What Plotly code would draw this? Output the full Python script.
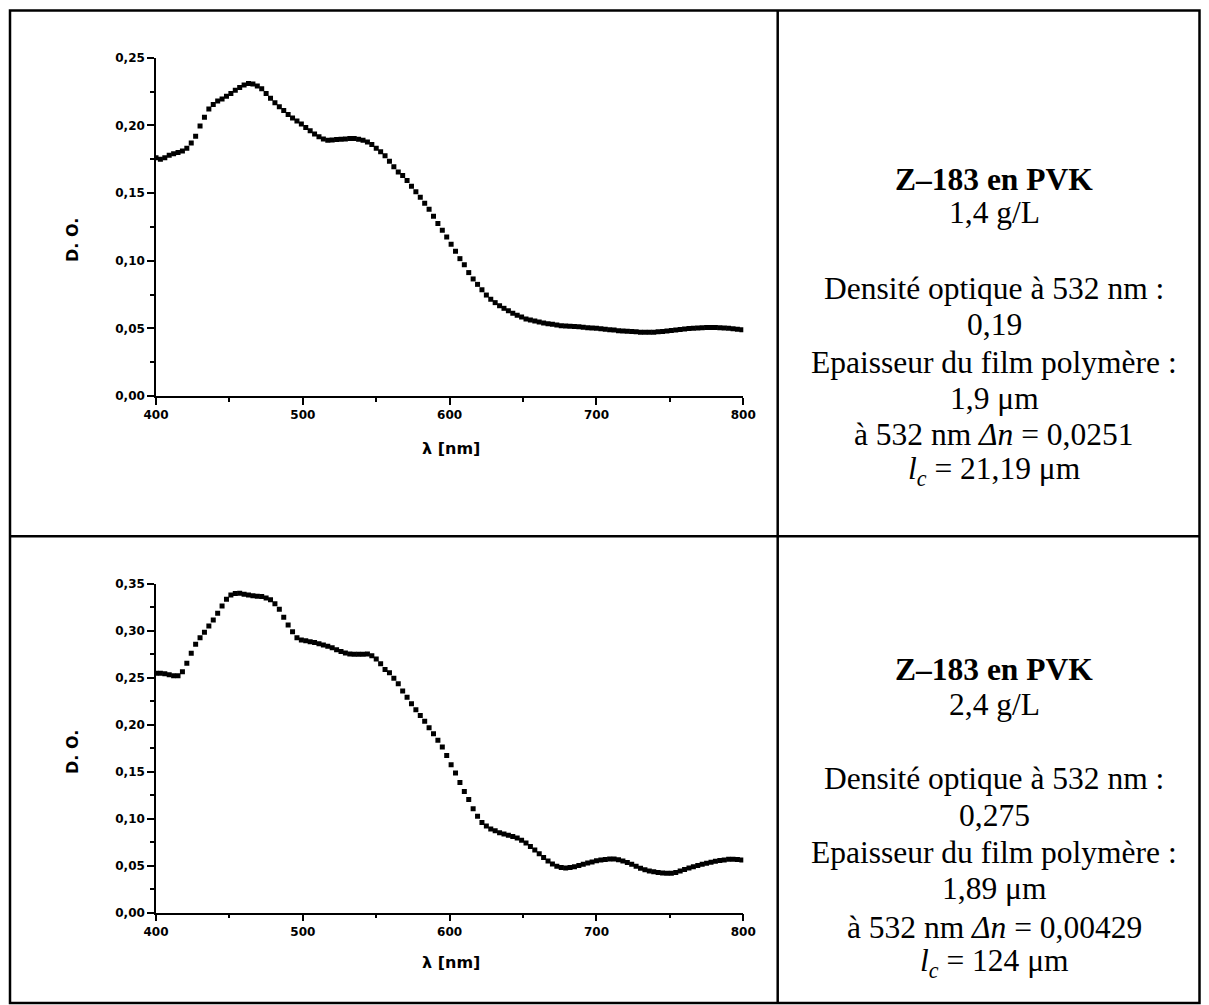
import plotly.graph_objects as go

# Wavelength grid (nm)
wavelength = [400, 403, 406, 409, 412, 415, 418, 421, 424, 427, 430, 433, 436, 439, 442, 445, 448, 451, 454, 457,
              460, 463, 466, 469, 472, 475, 478, 481, 484, 487, 490, 493, 496, 499, 502, 505, 508, 511, 514, 517,
              520, 523, 526, 529, 532, 535, 538, 541, 544, 547, 550, 553, 556, 559, 562, 565, 568, 571, 574, 577,
              580, 583, 586, 589, 592, 595, 598, 601, 604, 607, 610, 613, 616, 619, 622, 625, 628, 631, 634, 637,
              640, 643, 646, 649, 652, 655, 658, 661, 664, 667, 670, 673, 676, 679, 682, 685, 688, 691, 694, 697,
              700, 703, 706, 709, 712, 715, 718, 721, 724, 727, 730, 733, 736, 739, 742, 745, 748, 751, 754, 757,
              760, 763, 766, 769, 772, 775, 778, 781, 784, 787, 790, 793, 796, 799]

# Optical density, 1.4 g/L
od_14 = [.176, .175, .176, .178, .179, .180, .181, .183, .187, .192, .1995, .206, .212, .2155, .218, .2195, .2215, .2235, .226, .228,
         .2298, .231, .2306, .229, .227, .2235, .220, .2168, .2138, .211, .208, .2055, .2033, .201, .1985, .196, .1937, .1915, .190, .189,
         .1892, .1895, .1898, .190, .1902, .1903, .1898, .189, .1877, .1858, .183, .1805, .1775, .1735, .1695, .1655, .163, .1592, .155, .151,
         .1468, .1425, .138, .1328, .1275, .1225, .1175, .1122, .107, .1015, .097, .0912, .0865, .0825, .0785, .0746, .0715, .069, .0667, .0648,
         .063, .0612, .0596, .0583, .0569, .0562, .0554, .0547, .054, .0534, .053, .0525, .052, .0518, .0516, .0513, .0511, .0508, .0505, .0502,
         .050, .0497, .0493, .049, .0487, .0483, .048, .0478, .0476, .0474, .0472, .0471, .0471, .0472, .0474, .0477, .048, .0484, .0488, .0492,
         .0495, .0498, .0501, .0503, .0505, .0506, .0507, .0507, .0505, .0503, .050, .0497, .0494, .049]

# Optical density, 2.4 g/L
od_24 = [.2549, .2549, .2545, .2535, .2522, .2524, .2566, .2656, .2762, .2858, .2928, .2985, .3053, .3117, .3188, .3266, .3337, .3383, .340, .3401,
         .3392, .3383, .3376, .337, .3366, .3352, .3333, .329, .3232, .3146, .3064, .2992, .2928, .2904, .2895, .2885, .2876, .2865, .2851, .2836,
         .282, .280, .278, .2766, .2755, .2751, .2751, .2753, .2755, .2737, .2701, .2652, .259, .2555, .2496, .2438, .236, .2295, .2225, .2162,
         .210, .2038, .197, .1905, .1835, .1765, .1675, .1575, .1487, .1387, .129, .1205, .1108, .1028, .096, .0922, .0891, .0872, .0852, .0838,
         .0826, .0812, .0795, .0772, .0741, .0706, .0667, .0628, .0588, .0551, .0518, .0495, .048, .0476, .048, .049, .0502, .0516, .0528, .0541,
         .0552, .0561, .0567, .0571, .0571, .0563, .0551, .0535, .0515, .0494, .0473, .0457, .0444, .0435, .0429, .0424, .042, .042, .0428, .0443,
         .046, .0476, .049, .0503, .0515, .0527, .0538, .0548, .0556, .0562, .0568, .057, .0567, .0561]

x_ticks = [400, 500, 600, 700, 800]
x_title = "λ [nm]"
y_title = "D. O."

top_lines = ["<b>Z–183 en PVK</b>", "1,4 g/L", "Densité optique à 532 nm :", "0,19",
             "Epaisseur du film polymère :", "1,9 μm", "à 532 nm <i>Δn</i> = 0,0251",
             "<i>l</i><sub><i>c</i></sub> = 21,19 μm"]
bottom_lines = ["<b>Z–183 en PVK</b>", "2,4 g/L", "Densité optique à 532 nm :", "0,275",
                "Epaisseur du film polymère :", "1,89 μm", "à 532 nm <i>Δn</i> = 0,00429",
                "<i>l</i><sub><i>c</i></sub> = 124 μm"]

W, H = 1209, 1005
def px(x):
    return x / W
def py(y):
    return 1 - y / H

fig = go.Figure()
fig.add_trace(go.Scatter(x=wavelength, y=od_14, mode="markers", xaxis="x", yaxis="y",
                         marker=dict(symbol="square", size=5, color="black", line=dict(width=0))))
fig.add_trace(go.Scatter(x=wavelength, y=od_24, mode="markers", xaxis="x2", yaxis="y2",
                         marker=dict(symbol="square", size=5, color="black", line=dict(width=0))))

tickfont = dict(family="DejaVu Sans", size=12, color="black", weight="bold")

def xaxis_cfg(anchor):
    return dict(domain=[px(156), px(743.3)], range=[400, 800], anchor=anchor, automargin=False,
                tickvals=x_ticks, ticks="outside", ticklen=7, tickwidth=1.5, tickcolor="black",
                showline=True, linecolor="black", linewidth=1.5, showgrid=False, zeroline=False,
                tickfont=tickfont,
                minor=dict(dtick=50, tick0=400, ticks="outside", ticklen=4, tickwidth=1.5, tickcolor="black"))

def yaxis_cfg(anchor, dom, rng):
    return dict(domain=dom, range=rng, anchor=anchor, dtick=0.05, tick0=0, tickformat=".2f", automargin=False,
                ticks="outside", ticklen=7, tickwidth=1.5, tickcolor="black",
                showline=True, linecolor="black", linewidth=1.5, showgrid=False, zeroline=False,
                tickfont=tickfont,
                minor=dict(dtick=0.025, tick0=0, ticks="outside", ticklen=4, tickwidth=1.5, tickcolor="black"))

annotations = []
titlefont = dict(family="DejaVu Sans", size=16, color="black", weight="bold")
for yc in (240, 752):
    annotations.append(dict(text=y_title, x=px(72), y=py(yc), xref="paper", yref="paper",
                            showarrow=False, textangle=-90, font=titlefont, xanchor="center", yanchor="middle"))
for yc in (448, 962):
    annotations.append(dict(text=x_title, x=px(451), y=py(yc), xref="paper", yref="paper",
                            showarrow=False, font=titlefont, xanchor="center", yanchor="middle"))

serif = dict(family="Liberation Serif, Times New Roman, serif", size=31.5, color="black")
top_y = [179, 213, 288, 325, 362, 398, 435, 471]
bot_y = [669, 704, 778, 815, 852, 888, 927, 963]
for lines, ys in ((top_lines, top_y), (bottom_lines, bot_y)):
    for t, yy in zip(lines, ys):
        annotations.append(dict(text=t, x=px(994), y=py(yy), xref="paper", yref="paper", showarrow=False,
                                font=serif, xanchor="center", yanchor="middle"))

shapes = [
    dict(type="rect", xref="paper", yref="paper", x0=px(10), x1=px(1199.5), y0=py(10.5), y1=py(1003),
         line=dict(color="black", width=2.5)),
    dict(type="line", xref="paper", yref="paper", x0=px(777.7), x1=px(777.7), y0=py(10.5), y1=py(1003),
         line=dict(color="black", width=2.5)),
    dict(type="line", xref="paper", yref="paper", x0=px(10), x1=px(1199.5), y0=py(536.3), y1=py(536.3),
         line=dict(color="black", width=2.5)),
]

fig.update_layout(
    width=W, height=H, margin=dict(l=0, r=0, t=0, b=0, pad=0), autosize=False,
    paper_bgcolor="white", plot_bgcolor="white", showlegend=False,
    separators=", ",
    xaxis=xaxis_cfg("y"),
    yaxis=yaxis_cfg("x", [py(396), py(57.7)], [0, 0.25]),
    xaxis2=xaxis_cfg("y2"),
    yaxis2=yaxis_cfg("x2", [py(912.7), py(584)], [0, 0.35]),
    annotations=annotations, shapes=shapes,
)

fig.write_html("out.html", config={"displayModeBar": False},
               post_script="document.body.style.margin='0';document.body.style.overflow='hidden';")
